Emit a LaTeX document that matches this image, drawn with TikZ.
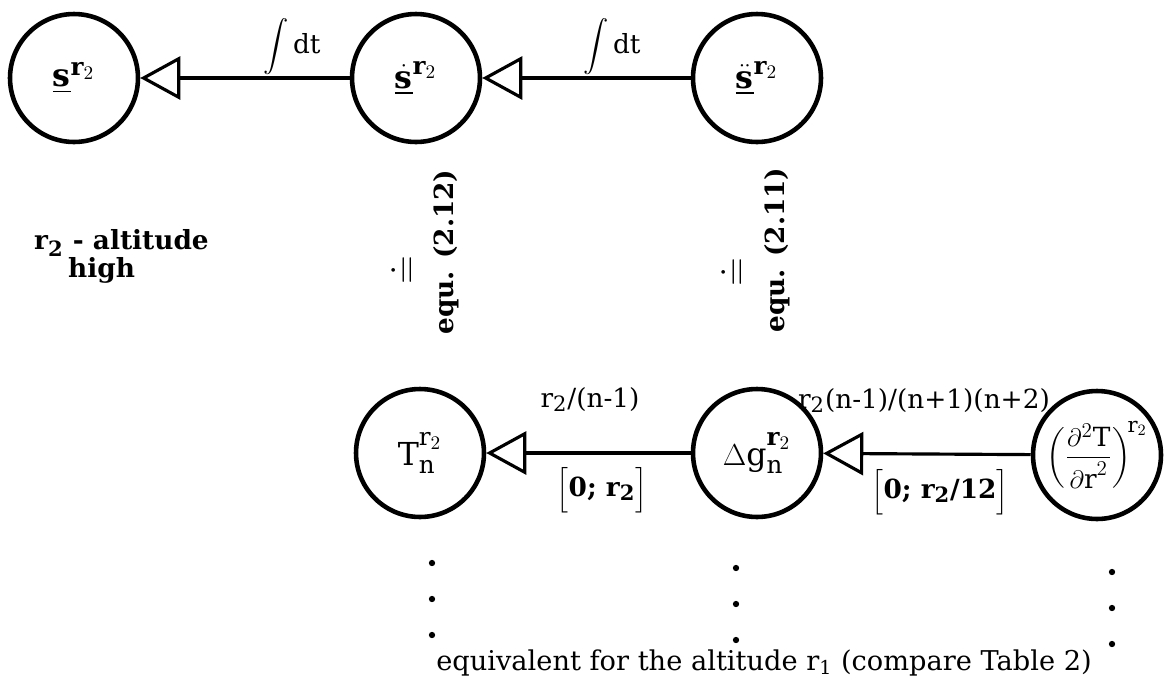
\documentclass[tikz,border=0pt]{standalone}
\usepackage{amsmath}
\usepackage{fontspec}
\setmainfont{DejaVu Serif}
\usetikzlibrary{arrows.meta}
\DeclareMathSizes{18}{18}{14}{11}
\DeclareMathSizes{15}{15}{12}{9}

\tikzset{
  quant/.style={circle, draw, line width=2.6pt, minimum size=2.56cm, inner sep=0pt,
    font=\fontsize{18}{20}\selectfont\bfseries},
  feed/.style={line width=1.8pt,
    -{Triangle[open, length=0.8cm, width=0.86cm, line width=1.8pt]}},
  lbl/.style={font=\fontsize{15}{17}\selectfont},
  blbl/.style={font=\fontsize{15}{17}\selectfont\bfseries},
}

\begin{document}
\begin{tikzpicture}[x=0.02cm, y=-0.02cm]
        \useasboundingbox (0,0) rectangle (1167,687);

        % upper row, altitude r2
        \node[quant] (sR)   at (74,78)  {$\underline{\mathbf{s}}^{\mathbf{r}_2}$};
        \node[quant] (sdR)  at (416,78) {$\underline{\dot{\mathbf{s}}}^{\mathbf{r}_2}$};
        \node[quant] (sddR) at (757,78) {$\underline{\ddot{\mathbf{s}}}^{\mathbf{r}_2}$};

        \draw[feed] (sdR) -- (sR);
        \draw[feed] (sddR) -- (sdR);
        \node[lbl, inner sep=0pt] (int1) at (292,47) {$\displaystyle\int \mathrm{dt}$};
        \node[lbl, inner sep=0pt] (int2) at (612,47) {$\displaystyle\int \mathrm{dt}$};

        \node[blbl, anchor=west] (alt) at (28,243) {$\mathbf{r}_{\mathbf{2}}$ - altitude};
        \node[blbl, anchor=west] (high) at (62,270) {high};

        % equations, turned upright
        \node[lbl, rotate=90, scale=1.5] (eq1) at (402,270) {$\doteq$};
        \node[blbl, rotate=90] (equ12) at (446,252) {equ. (2.12)};
        \node[lbl, rotate=90, scale=1.5] (eq2) at (732,272) {$\doteq$};
        \node[blbl, rotate=90] (equ11) at (777,250) {equ. (2.11)};

        % lower row
        \node[quant] (Tn)  at (420,453)  {$\mathrm{T}_{\mathrm{n}}^{\mathrm{r}_2}$};
        \node[quant] (dgn) at (757,453)  {$\Delta\mathrm{g}_{\mathrm{n}}^{\mathbf{r}_2}$};
        \node[quant, font=\fontsize{15}{17}\selectfont] (ddT) at (1097,455)
          {$\left(\dfrac{\partial^2\mathrm{T}}{\partial\mathrm{r}^2}\right)^{\!\mathrm{r}_2}$};

        \draw[feed] (dgn) -- (Tn);
        \draw[feed] (ddT) -- (dgn);
        \node[lbl] (fac1) at (590,400) {r\textsubscript{2}/(n-1)};
        \node[blbl] (int3) at (602,490) {$\Big[$0; r\textsubscript{2}$\Big]$};
        \node[lbl, inner sep=1pt] (fac2) at (924,401) {r\textsubscript{2}(n-1)/(n+1)(n+2)};
        \node[blbl] (int4) at (940,492) {$\Big[$0; r\textsubscript{2}/12$\Big]$};

        % continuation dots
        \foreach \x/\y in {432/563, 736/568, 1112/572} {
          \foreach \k in {0,1,2}
            \fill (\x,\y+36*\k) circle (1.8pt);
        }
        \node[lbl, font=\fontsize{15.5}{17}\selectfont] (note) at (764,663)
          {equivalent for the altitude r\textsubscript{1} (compare Table 2)};
      \end{tikzpicture}
\end{document}
